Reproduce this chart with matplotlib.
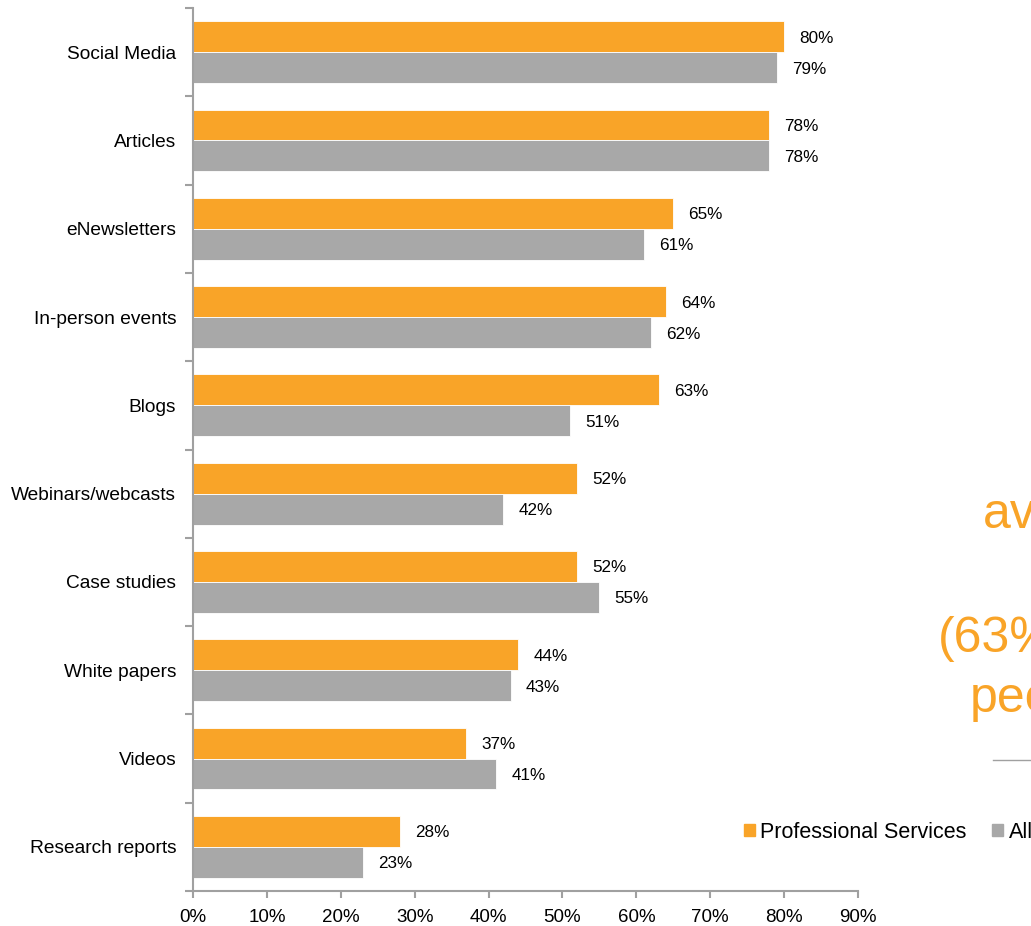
import numpy as np
import matplotlib
matplotlib.use('Agg')
import matplotlib.pyplot as plt
from matplotlib.patches import Patch

categories = ['Social Media', 'Articles', 'eNewsletters', 'In-person events', 'Blogs',
              'Webinars/webcasts', 'Case studies', 'White papers', 'Videos', 'Research reports']
prof_services = [80, 78, 65, 64, 63, 52, 52, 44, 37, 28]
all_firms = [79, 78, 61, 62, 51, 42, 55, 43, 41, 23]
xticks = [0, 10, 20, 30, 40, 50, 60, 70, 80, 90]

ORANGE = '#F9A428'
GRAY = '#A8A8A8'
AXIS = '#A0A0A0'

plt.rcParams['font.family'] = ['Liberation Sans', 'DejaVu Sans']

fig = plt.figure(figsize=(10.31, 9.26), dpi=100)
ax = fig.add_axes([193/1031, 1 - 891/926, (858-193)/1031, (891-8)/926])

y = np.arange(len(categories))
h = 0.35
b1 = ax.barh(y - h/2, prof_services, height=h, color=ORANGE, edgecolor='white', linewidth=0.6)
b2 = ax.barh(y + h/2, all_firms, height=h, color=GRAY, edgecolor='white', linewidth=0.6)
for bars, vals in [(b1, prof_services), (b2, all_firms)]:
    labs = ax.bar_label(bars, labels=[f'{v}%' for v in vals], padding=11, fontsize=12.3)
    for t in labs:
        t.set_va('center_baseline')

ax.set_xlim(0, 90)
ax.set_ylim(len(categories) - 0.5, -0.5)
ax.set_xticks(xticks)
ax.set_xticklabels([f'{t}%' for t in xticks], fontsize=13.5)
ax.set_yticks(np.arange(len(categories) + 1) - 0.5)
ax.set_yticklabels([])
ax.set_yticks(y, minor=True)
ax.set_yticklabels(categories, minor=True, fontsize=13.8)
ax.tick_params(axis='y', which='minor', length=0, pad=12)
ax.tick_params(axis='y', which='major', length=6, width=1.5, color=AXIS)
ax.tick_params(axis='x', length=5, width=1.5, color=AXIS, pad=8)

for side in ['top', 'right']:
    ax.spines[side].set_visible(False)
for side in ['left', 'bottom']:
    ax.spines[side].set_color(AXIS)
    ax.spines[side].set_linewidth(1.5)

# cut-off text on the right of the slide
fig.text(983/1031, 1 - 528/926, 'ave', color=ORANGE, fontsize=36, va='baseline')
fig.text(938/1031, 1 - 652/926, '(63%', color=ORANGE, fontsize=36, va='baseline')
fig.text(970/1031, 1 - 712/926, 'pee', color=ORANGE, fontsize=36, va='baseline')
fig.add_artist(plt.Line2D([993/1031, 1.0], [1 - 760/926, 1 - 760/926], color=AXIS, linewidth=1))

handles = [Patch(color=ORANGE, label='Professional Services'), Patch(color=GRAY, label='All')]
fig.legend(handles=handles, loc='center left', bbox_to_anchor=(744/1031, 1 - 832/926),
           ncol=2, frameon=False, fontsize=15.5, handlelength=0.5, handleheight=0.5,
           handletextpad=0.25, columnspacing=1.2, borderpad=0, borderaxespad=0)

fig.savefig('out.png', dpi=100)
